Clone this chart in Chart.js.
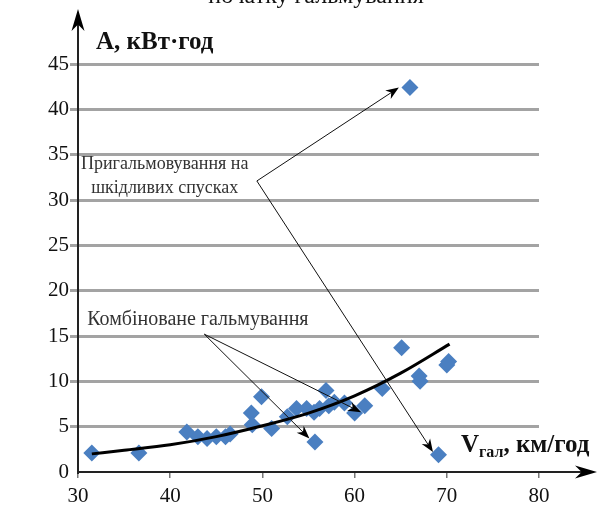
<!DOCTYPE html>
<html>
<head>
<meta charset="utf-8">
<script src="https://cdn.jsdelivr.net/npm/chart.js@4.4.1/dist/chart.umd.min.js"></script>
<style>
html, body { margin: 0; padding: 0; background: #fff; }
#wrap { width: 601px; height: 512px; }
</style>
</head>
<body>
<div id="wrap"><canvas id="chart" width="601" height="512"></canvas></div>
<script>
// measured points: braking speed (km/h) vs energy (kW·h)
const speed = [31.5, 36.6, 41.8, 43, 44, 45, 46, 46.5, 48.8, 48.9, 49.9, 51, 52.7, 53.7, 54.8, 55.6, 55.7,
               56.2, 56.9, 57.2, 57.8, 58.9, 60, 61.1, 63, 65.1, 66, 67, 67.1, 69.1, 70, 70.2];
const energy = [2.1, 2.1, 4.4, 3.9, 3.7, 3.9, 3.9, 4.2, 6.5, 5.2, 8.3, 4.8, 6.1, 7.0, 7.0, 6.6, 3.3,
                7.0, 9.0, 7.3, 7.7, 7.6, 6.5, 7.3, 9.2, 13.7, 42.4, 10.6, 10.0, 1.9, 11.8, 12.2];

// trend curve
const trendX = [31.5, 35, 40, 45, 50, 55, 60, 65, 70.3];
const trendY = [2.0, 2.4, 3.0, 3.9, 5.1, 6.5, 8.4, 10.9, 14.1];

const xTicks = [30, 40, 50, 60, 70, 80];
const yTicks = [0, 5, 10, 15, 20, 25, 30, 35, 40, 45];

// callouts, in data units
const callout1Text = ['Пригальмовування на', 'шкідливих спусках'];
const callout1At = [[39.4, 33.9], [39.4, 31.3]];
const callout1From = [49.4, 32.1];
const callout1To = [[64.8, 42.4], [68.5, 2.2]];

const callout2Text = 'Комбіноване гальмування';
const callout2At = [43.0, 16.8];
const callout2From = [43.7, 15.2];
const callout2To = [[60.7, 6.6], [55.1, 3.7]];

const serif = '"Liberation Serif", "DejaVu Serif", serif';

function pts(xs, ys) {
    let out = [];
    for (let i = 0; i < xs.length; i++) out.push({ x: xs[i], y: ys[i] });
    return out;
}

function arrow(ctx, x1, y1, x2, y2, len, half) {
    const a = Math.atan2(y2 - y1, x2 - x1);
    const c = Math.cos(a), s = Math.sin(a);
    ctx.beginPath();
    ctx.moveTo(x1, y1);
    ctx.lineTo(x2 - c * len * 0.6, y2 - s * len * 0.6);
    ctx.stroke();
    ctx.beginPath();
    ctx.moveTo(x2, y2);
    ctx.lineTo(x2 - len * c + half * s, y2 - len * s - half * c);
    ctx.lineTo(x2 - len * 0.7 * c, y2 - len * 0.7 * s);
    ctx.lineTo(x2 - len * c - half * s, y2 - len * s + half * c);
    ctx.closePath();
    ctx.fill();
}

const extras = {
    id: 'extras',
    afterDraw(chart) {
        const ctx = chart.ctx;
        const xs = chart.scales.x, ys = chart.scales.y;
        const area = chart.chartArea;
        const px = v => xs.getPixelForValue(v);
        const py = v => ys.getPixelForValue(v);
        ctx.save();

        // axis arrows
        ctx.strokeStyle = '#222';
        ctx.fillStyle = '#000';
        ctx.lineWidth = 2;
        arrow(ctx, area.left, area.top, area.left, 9, 22, 6.5);
        arrow(ctx, area.right, area.bottom, 597, area.bottom, 22, 6.5);

        // axis titles
        ctx.fillStyle = '#111';
        ctx.textBaseline = 'middle';
        ctx.textAlign = 'left';
        ctx.font = 'bold 25px ' + serif;
        ctx.fillText('А, кВт·год', 96, 43);
        ctx.fillText('V', 461, 446);
        let w = ctx.measureText('V').width;
        ctx.font = 'bold 16px ' + serif;
        ctx.fillText('гал', 461 + w, 453);
        w += ctx.measureText('гал').width;
        ctx.font = 'bold 25px ' + serif;
        ctx.fillText(', км/год', 461 + w, 446);

        // caption of the previous figure line, cut by the top edge
        ctx.font = '24px ' + serif;
        ctx.textAlign = 'center';
        ctx.textBaseline = 'alphabetic';
        ctx.fillText('початку гальмування', 316, 3);

        // callout texts
        ctx.fillStyle = '#333';
        ctx.textBaseline = 'middle';
        ctx.font = '18px ' + serif;
        for (let i = 0; i < callout1Text.length; i++) {
            ctx.fillText(callout1Text[i], px(callout1At[i][0]), py(callout1At[i][1]));
        }
        ctx.font = '20px ' + serif;
        ctx.fillText(callout2Text, px(callout2At[0]), py(callout2At[1]));

        // callout arrows
        ctx.strokeStyle = '#111';
        ctx.fillStyle = '#000';
        ctx.lineWidth = 1;
        for (let t of callout1To) {
            arrow(ctx, px(callout1From[0]), py(callout1From[1]), px(t[0]), py(t[1]), 13, 5);
        }
        for (let t of callout2To) {
            arrow(ctx, px(callout2From[0]), py(callout2From[1]), px(t[0]), py(t[1]), 13, 5);
        }
        ctx.restore();
    }
};

new Chart(document.getElementById('chart'), {
    type: 'scatter',
    data: {
        datasets: [
            {
                label: 'trend',
                data: pts(trendX, trendY),
                showLine: true,
                borderColor: '#000',
                borderWidth: 3,
                pointRadius: 0,
                cubicInterpolationMode: 'monotone'
            },
            {
                label: 'A',
                data: pts(speed, energy),
                pointStyle: 'rectRot',
                pointRadius: 8.5,
                backgroundColor: '#4a7fc1',
                borderColor: '#4a7fc1',
                borderWidth: 0
            }
        ]
    },
    options: {
        responsive: false,
        animation: false,
        layout: { padding: { top: 64, right: 62, left: 0, bottom: 0 } },
        plugins: { legend: { display: false }, tooltip: { enabled: false } },
        scales: {
            x: {
                type: 'linear',
                min: 30,
                max: 80,
                afterFit: s => { s.height = 40; },
                afterBuildTicks: s => { s.ticks = xTicks.map(v => ({ value: v })); },
                ticks: { color: '#111', padding: 6, font: { family: serif, size: 21 } },
                grid: { drawOnChartArea: false, drawTicks: true, tickLength: 6, color: '#777', lineWidth: 1.5 },
                border: { display: true, color: '#222', width: 2 }
            },
            y: {
                min: 0,
                max: 45,
                afterFit: s => { s.width = 78; },
                afterBuildTicks: s => { s.ticks = yTicks.map(v => ({ value: v })); },
                ticks: { color: '#111', padding: 1, font: { family: serif, size: 21 } },
                grid: {
                    color: ctx => ctx.tick && ctx.tick.value === 0 ? 'rgba(0,0,0,0)' : '#a3a3a3',
                    lineWidth: 3,
                    tickLength: 8
                },
                border: { display: true, color: '#222', width: 2 }
            }
        }
    },
    plugins: [extras]
});
</script>
</body>
</html>
